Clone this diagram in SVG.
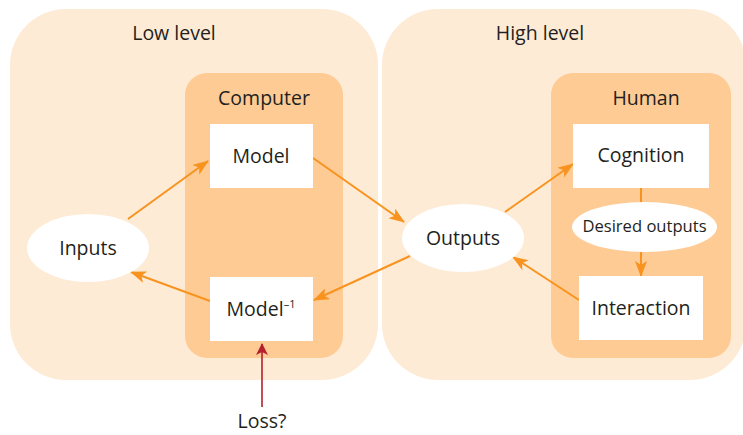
<svg xmlns="http://www.w3.org/2000/svg" width="743" height="435" viewBox="0 0 743 435">
  <style>
    .panel { fill: #FEEBD6; }
    .inner { fill: #FECB94; }
    .box { fill: #FFFFFF; }
    .lbl { font-family: "Open Sans", "Noto Sans", sans-serif; fill: #231F20; text-anchor: middle; }
    .big { font-size: 19.5px; }
    .small { font-size: 16.6px; }
    .flow { stroke: #F7931E; stroke-width: 2; fill: none; }
    .flow.arr { marker-end: url(#head); }
    .loss { stroke: #B5212E; stroke-width: 1.6; fill: none; marker-end: url(#headRed); }
  </style>
  <defs>
    <marker id="head" viewBox="0 0 16 12" markerWidth="16" markerHeight="12" refX="15" refY="6" orient="auto" markerUnits="userSpaceOnUse">
      <path d="M0,0 L16,6 L0,12 L4,6 z" fill="#F7931E"/>
    </marker>
    <marker id="headRed" viewBox="0 0 12 12" markerWidth="12" markerHeight="12" refX="11" refY="6" orient="auto" markerUnits="userSpaceOnUse">
      <path d="M0,0 L12,6 L0,12 L3,6 z" fill="#B5212E"/>
    </marker>
  </defs>

  <!-- level panels -->
  <g id="low-level">
    <rect class="panel" x="10" y="9" width="368" height="371" rx="56" ry="56"/>
    <text class="lbl big" x="174" y="40">Low level</text>
  </g>
  <g id="high-level">
    <rect class="panel" x="382" y="9" width="364" height="371" rx="56" ry="56"/>
    <text class="lbl big" x="540" y="40">High level</text>
  </g>

  <!-- agent groups -->
  <g id="computer">
    <rect class="inner" x="185" y="73" width="158" height="285" rx="22" ry="22"/>
    <text class="lbl big" x="264" y="105">Computer</text>
  </g>
  <g id="human">
    <rect class="inner" x="551" y="73" width="180" height="285" rx="22" ry="22"/>
    <text class="lbl big" x="646" y="105">Human</text>
  </g>

  <!-- connectors -->
  <g id="connectors">
    <line class="flow arr" x1="128" y1="219" x2="208" y2="161"/>
    <line class="flow arr" x1="313" y1="158" x2="404" y2="222"/>
    <line class="flow arr" x1="505" y1="212" x2="573" y2="164"/>
    <line class="flow" x1="641" y1="188" x2="641" y2="203"/>
    <line class="flow arr" x1="641" y1="252" x2="641" y2="276"/>
    <line class="flow arr" x1="579" y1="300" x2="513" y2="257"/>
    <line class="flow arr" x1="410" y1="256" x2="314" y2="300"/>
    <line class="flow arr" x1="210" y1="301" x2="131" y2="272"/>
    <line class="loss" x1="262" y1="407" x2="262" y2="344"/>
  </g>

  <!-- nodes -->
  <g id="inputs">
    <ellipse class="box" cx="88" cy="248" rx="61" ry="34"/>
    <text class="lbl big" x="88" y="255">Inputs</text>
  </g>
  <g id="model">
    <rect class="box" x="210" y="124" width="103" height="64"/>
    <text class="lbl big" x="261" y="163">Model</text>
  </g>
  <g id="model-inverse">
    <rect class="box" x="210" y="277" width="103" height="64"/>
    <text class="lbl big" x="261" y="316">Model<tspan font-size="11" dy="-8">–1</tspan></text>
  </g>
  <g id="outputs">
    <ellipse class="box" cx="463" cy="238" rx="61" ry="34"/>
    <text class="lbl big" x="463" y="245">Outputs</text>
  </g>
  <g id="cognition">
    <rect class="box" x="573" y="124" width="136" height="64"/>
    <text class="lbl big" x="641" y="162">Cognition</text>
  </g>
  <g id="desired-outputs">
    <ellipse class="box" cx="644.5" cy="227" rx="72.5" ry="25"/>
    <text class="lbl small" x="644.5" y="232">Desired outputs</text>
  </g>
  <g id="interaction">
    <rect class="box" x="579" y="276" width="124" height="64"/>
    <text class="lbl big" x="641" y="315">Interaction</text>
  </g>
  <g id="loss">
    <text class="lbl big" x="262" y="428">Loss?</text>
  </g>
</svg>
